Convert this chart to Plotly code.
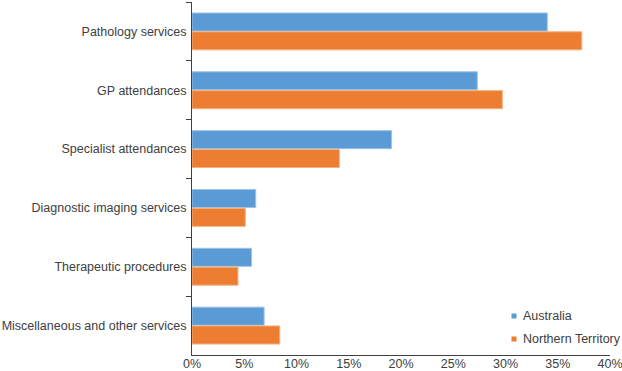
import plotly.graph_objects as go

categories = ["Pathology services", "GP attendances", "Specialist attendances",
              "Diagnostic imaging services", "Therapeutic procedures",
              "Miscellaneous and other services"]
australia = [34.0, 27.3, 19.1, 6.1, 5.7, 6.9]
northern_territory = [37.3, 29.7, 14.1, 5.1, 4.4, 8.4]
x_ticks = [0, 5, 10, 15, 20, 25, 30, 35, 40]
x_tick_labels = [f"{v}%" for v in x_ticks]
series_names = ["Australia", "Northern Territory"]

AUS = "#5B9BD5"
NT = "#ED7D31"
colors = [AUS, NT]

W, H = 622, 371
ML, MR, MT, MB = 192, 12, 2, 16
PW, PH = W - ML - MR, H - MT - MB

fig = go.Figure()
fig.add_trace(go.Bar(y=categories, x=australia, name=series_names[0], orientation="h",
                     showlegend=False,
                     marker=dict(color=AUS, line=dict(color="#9DC3E6", width=1))))
fig.add_trace(go.Bar(y=categories, x=northern_territory, name=series_names[1], orientation="h",
                     showlegend=False,
                     marker=dict(color=NT, line=dict(color="#F4B183", width=1))))

# manual legend (small square swatches + labels), placed in pixel terms
def px_x(p):
    return (p - ML) / PW

def px_y(p):
    return (H - MB - p) / PH

legend_rows = [316, 339]
shapes, annotations = [], []
for name, col, yc in zip(series_names, colors, legend_rows):
    shapes.append(dict(type="rect", xref="paper", yref="paper",
                       x0=px_x(511.5), x1=px_x(516.5), y0=px_y(yc + 2.5), y1=px_y(yc - 2.5),
                       fillcolor=col, line=dict(width=0)))
    annotations.append(dict(text=name, xref="paper", yref="paper", x=px_x(521), y=px_y(yc),
                            xanchor="left", yanchor="middle", showarrow=False,
                            font=dict(size=12.5, color="#404040")))

fig.update_layout(
    width=W, height=H,
    margin=dict(l=ML, r=MR, t=MT, b=MB, autoexpand=False),
    barmode="group", bargap=0.36, bargroupgap=0.04,
    plot_bgcolor="white", paper_bgcolor="white",
    font=dict(family="Liberation Sans, Arial, sans-serif", size=12.5, color="#404040"),
    showlegend=False,
    shapes=shapes, annotations=annotations,
    xaxis=dict(range=[0, 40], tickvals=x_ticks, ticktext=x_tick_labels,
               showgrid=False, zeroline=False, showline=True, linecolor="#404040",
               linewidth=1, ticks="", tickfont=dict(size=12.5),
               ticklabeloverflow="allow", automargin=False, ticklabelstandoff=-3),
    yaxis=dict(autorange="reversed", showgrid=False, showline=True, linecolor="#404040",
               linewidth=1, ticks="outside", ticklen=5, tickcolor="#404040",
               tickson="boundaries", ticklabelstandoff=2, tickfont=dict(size=12.5),
               automargin=False),
)

fig.write_html("out.html", config={"displayModeBar": False},
               post_script="document.body.style.margin='0';")
